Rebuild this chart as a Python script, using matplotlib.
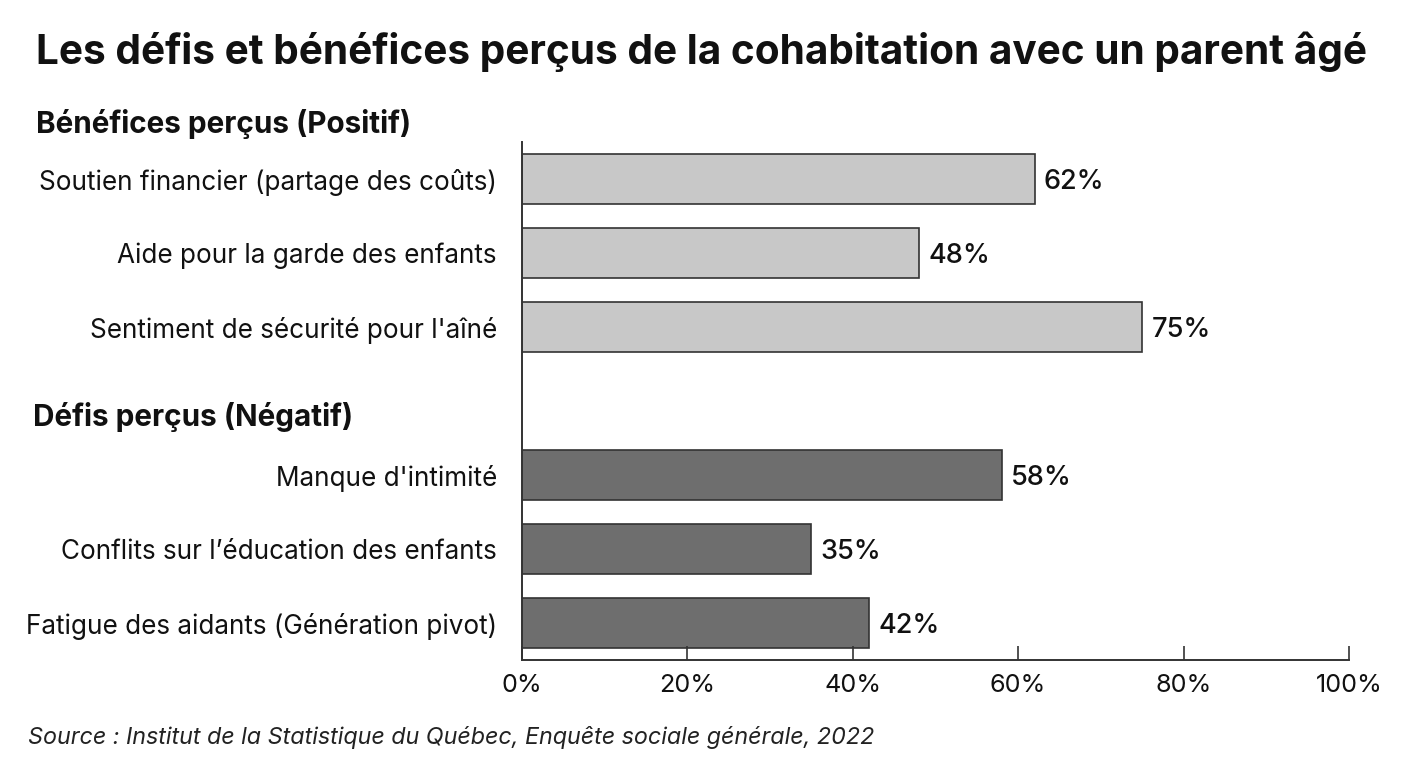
import numpy as np
import matplotlib.pyplot as plt

# data
benefices = ["Soutien financier (partage des coûts)", "Aide pour la garde des enfants",
             "Sentiment de sécurité pour l'aîné"]
benefices_vals = [62, 48, 75]
defis = ["Manque d'intimité", "Conflits sur l’éducation des enfants",
         "Fatigue des aidants (Génération pivot)"]
defis_vals = [58, 35, 42]
xticks = [0, 20, 40, 60, 80, 100]

plt.rcParams['font.family'] = ['Inter', 'DejaVu Sans']

fig = plt.figure(figsize=(14.08, 7.68), dpi=100)
ax = fig.add_axes([0.3707, 0.1406, 0.5874, 0.6745])

pos_b = np.arange(len(benefices))
pos_d = np.arange(len(defis)) + len(benefices) + 1

ax.barh(pos_b, benefices_vals, height=0.68, color='#c8c8c8', edgecolor='#333333', linewidth=1.2)
ax.barh(pos_d, defis_vals, height=0.68, color='#6e6e6e', edgecolor='#333333', linewidth=1.2)

for p, v in zip(list(pos_b) + list(pos_d), benefices_vals + defis_vals):
    ax.text(v + 1.1, p, f"{v}%", va='center_baseline', ha='left', fontsize=19.5,
            fontweight='medium', color='#111111')

ax.set_yticks(list(pos_b) + list(pos_d))
ax.set_yticklabels(benefices + defis, fontsize=18.8, color='#111111')
ax.tick_params(axis='y', length=0, pad=18)
ax.set_ylim(6.5, -0.5)

ax.set_xlim(0, 100)
ax.set_xticks(xticks)
ax.set_xticklabels([f"{t}%" for t in xticks], fontsize=18.2, color='#111111')
ax.tick_params(axis='x', direction='in', length=10, width=1.2, color='#333333', pad=10)

for s in ['top', 'right']:
    ax.spines[s].set_visible(False)
for s in ['left', 'bottom']:
    ax.spines[s].set_linewidth(1.4)
    ax.spines[s].set_color('#333333')

fig.text(0.0256, 0.932, "Les défis et bénéfices perçus de la cohabitation avec un parent âgé",
         fontsize=29.2, fontweight='bold', va='center', ha='left', color='#111111')
fig.text(0.0256, 0.839, "Bénéfices perçus (Positif)", fontsize=21.4, fontweight='bold',
         va='center', ha='left', color='#111111')
fig.text(0.0235, 0.457, "Défis perçus (Négatif)", fontsize=21.4, fontweight='bold',
         va='center', ha='left', color='#111111')
fig.text(0.02, 0.040, "Source : Institut de la Statistique du Québec, Enquête sociale générale, 2022",
         fontsize=16.8, style='italic', va='center', ha='left', color='#222222')

fig.savefig('out.png', dpi=100, facecolor='white')
